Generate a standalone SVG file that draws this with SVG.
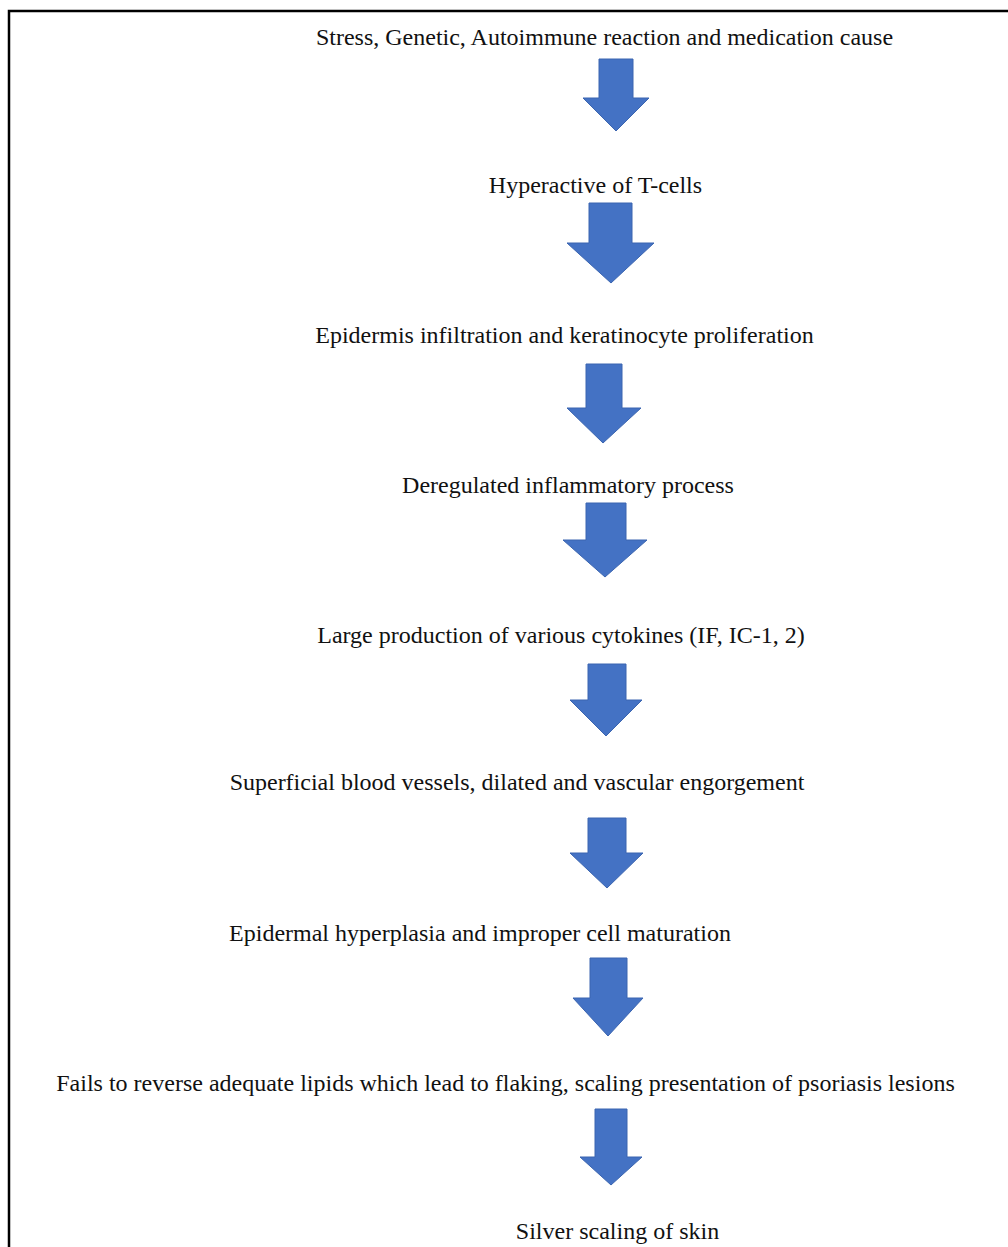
<svg xmlns="http://www.w3.org/2000/svg" width="1008" height="1247" viewBox="0 0 1008 1247">
<style>
.t{font-family:"Liberation Serif","Times New Roman",serif;font-size:24px;fill:#111;text-anchor:middle}
.a{fill:#4472C4;stroke:#3B65B0;stroke-width:1}
</style>
<rect width="1008" height="1247" fill="#fff"/>
<path d="M9,1247 V11 H1008" fill="none" stroke="#000" stroke-width="2.5"/>
<g id="n1"><text class="t" x="604.5" y="45">Stress, Genetic, Autoimmune reaction and medication cause</text></g>
<g id="n2"><text class="t" x="595.5" y="193">Hyperactive of T-cells</text></g>
<g id="n3"><text class="t" x="564.5" y="343">Epidermis infiltration and keratinocyte proliferation</text></g>
<g id="n4"><text class="t" x="568" y="493">Deregulated inflammatory process</text></g>
<g id="n5"><text class="t" x="561" y="643">Large production of various cytokines (IF, IC-1, 2)</text></g>
<g id="n6"><text class="t" x="517" y="790">Superficial blood vessels, dilated and vascular engorgement</text></g>
<g id="n7"><text class="t" x="480" y="941">Epidermal hyperplasia and improper cell maturation</text></g>
<g id="n8"><text class="t" x="505.5" y="1091">Fails to reverse adequate lipids which lead to flaking, scaling presentation of psoriasis lesions</text></g>
<g id="n9"><text class="t" x="617.5" y="1239">Silver scaling of skin</text></g>
<g id="connectors">
<polygon class="a" points="599,59 633,59 633,98 649,98 616,131 583,98 599,98"/>
<polygon class="a" points="589,203 632,203 632,243 654,243 611,283 567,243 589,243"/>
<polygon class="a" points="586,364 622,364 622,408 641,408 603,443 567,408 586,408"/>
<polygon class="a" points="586,503 626,503 626,540 647,540 605,577 563,540 586,540"/>
<polygon class="a" points="588,664 626,664 626,700 642,700 606,736 570,700 588,700"/>
<polygon class="a" points="588,818 626,818 626,853 643,853 607,888 570,853 588,853"/>
<polygon class="a" points="590,958 627,958 627,998 643,998 608,1036 573,998 590,998"/>
<polygon class="a" points="595,1109 627,1109 627,1157 642,1157 611,1185 580,1157 595,1157"/>
</g>
</svg>
